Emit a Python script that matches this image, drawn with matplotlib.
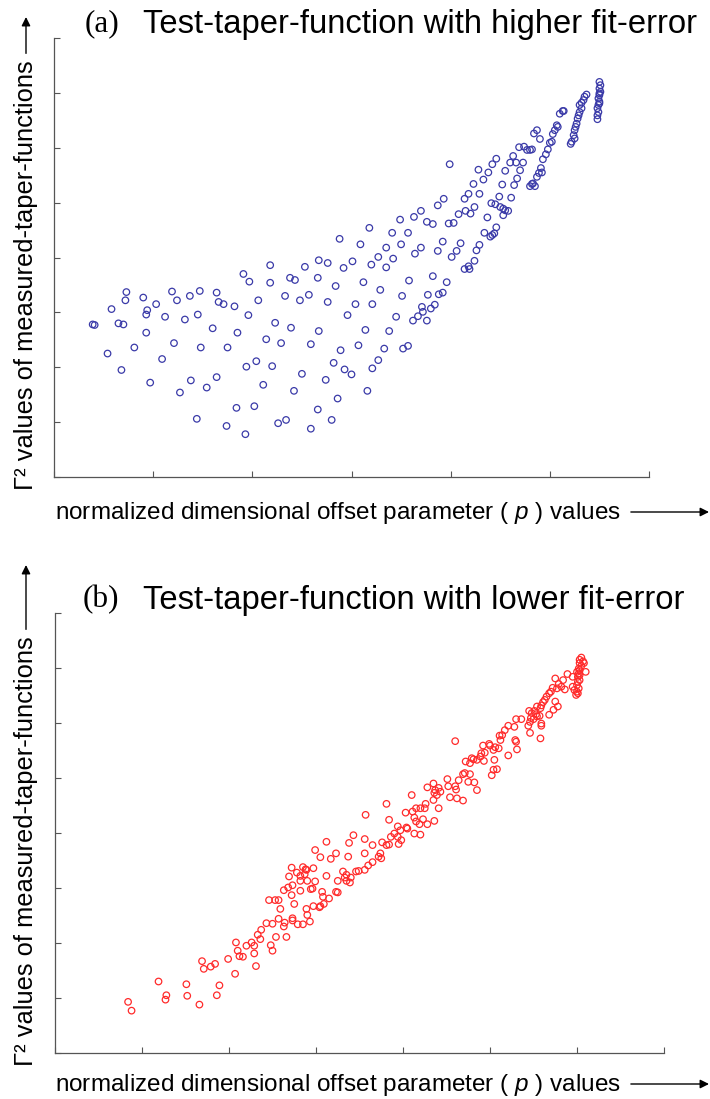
import matplotlib.pyplot as plt

plt.rcParams['font.family'] = ['Liberation Sans', 'DejaVu Sans']
plt.rcParams['mathtext.fontset'] = 'custom'
plt.rcParams['mathtext.rm'] = 'Liberation Sans'
plt.rcParams['mathtext.it'] = 'Liberation Sans:italic'

# (a) test-taper-function with higher fit-error
xa = [2.18, 2.53, 2.67, 2.76, 2.92, 3.01, 3.20, 3.35, 1.91, 1.97,
      2.38, 2.43, 2.18, 2.66, 2.84, 3.12, 0.73, 0.72, 0.90, 1.19,
      1.24, 1.37, 1.47, 1.64, 1.66, 1.71, 1.82, 2.06, 2.33, 2.48,
      2.57, 2.76, 3.04, 3.21, 3.29, 0.58, 1.03, 0.94, 0.93, 1.12,
      1.32, 1.45, 1.96, 2.96, 0.39, 0.41, 0.65, 0.70, 0.93, 1.60,
      1.85, 2.23, 2.39, 2.67, 3.14, 3.38, 0.54, 0.81, 1.21, 1.09,
      1.48, 1.75, 2.14, 2.29, 2.59, 2.89, 3.07, 3.33, 0.68, 1.94,
      2.04, 2.20, 2.82, 2.93, 3.00, 3.21, 3.27, 0.97, 1.38, 1.27,
      1.54, 1.64, 2.11, 2.50, 2.74, 2.42, 3.16, 2.86, 1.84, 2.02,
      2.66, 1.44, 1.74, 1.93, 2.26, 2.34, 2.59, 2.80,
      3.18, 2.88, 3.09, 3.35, 3.27,
      3.58, 3.82, 3.96, 3.51, 3.77, 3.88, 3.92, 3.71, 3.72, 3.67,
      3.62, 3.76, 3.80, 3.84, 3.45, 3.52, 3.57]
ya = [3.86, 3.83, 3.95, 3.90, 3.81, 3.93, 3.87, 3.82, 3.70, 3.56,
      3.63, 3.59, 3.54, 3.63, 3.48, 3.55, 3.37, 3.22, 3.27, 3.38,
      3.22, 3.30, 3.39, 3.36, 3.19, 3.15, 3.11, 3.22, 3.30, 3.22,
      3.32, 3.19, 3.15, 3.15, 3.41, 3.06, 3.15, 3.04, 2.96, 2.92,
      2.87, 2.96, 2.95, 2.95, 2.78, 2.77, 2.80, 2.78, 2.63, 2.71,
      2.63, 2.81, 2.72, 2.66, 2.68, 2.66, 2.25, 2.36, 2.44, 2.15,
      2.36, 2.36, 2.51, 2.44, 2.42, 2.31, 2.40, 2.34, 1.95, 2.01,
      2.11, 2.02, 2.08, 1.96, 1.87, 1.98, 2.13, 1.72, 1.76, 1.54,
      1.63, 1.82, 1.68, 1.88, 1.77, 1.57, 1.57, 1.43, 1.26, 1.29,
      1.23, 1.06, 0.93, 0.78, 0.98, 1.04, 0.88, 1.04,
      4.54, 4.34, 4.24, 4.18, 4.01,
      3.58, 3.66, 3.55, 3.30, 3.32, 3.33, 3.36, 3.10, 3.01, 2.93,
      2.85, 2.85, 3.07, 3.14, 2.92, 2.34, 2.39]

# (a) upper branch
xa_up = [5.50, 5.51, 5.50, 5.51, 5.50, 5.49, 5.50, 5.49, 5.48, 5.49,
         5.48, 5.48, 5.50, 5.50,
         5.37, 5.35, 5.34, 5.32, 5.30, 5.32, 5.30, 5.29, 5.28, 5.27,
         5.26, 5.25, 5.24, 5.25, 5.22, 5.21, 5.13, 5.10, 5.14,
         5.07, 5.08, 5.05, 5.03, 4.87, 4.84, 4.90, 5.02, 5.00, 4.98,
         4.96, 4.93, 4.91, 4.92, 4.89, 4.87, 4.85, 4.82, 4.80, 4.83,
         4.69, 4.74, 4.77, 4.80, 4.82, 4.63, 4.60, 4.66, 4.73, 4.70,
         4.67, 4.64, 4.55, 4.52, 4.46, 4.42, 4.38, 4.33, 4.28, 4.23,
         4.29, 4.18, 4.14, 4.24, 4.15, 4.20, 4.08, 3.99, 3.93, 3.87,
         3.70, 3.63, 3.49, 3.41, 3.57, 3.50, 3.42, 3.64, 3.70, 3.76,
         3.82, 3.98, 4.03, 3.92, 3.87, 4.01, 4.06, 4.10, 4.14, 4.18,
         4.19, 4.24, 4.26, 4.29, 4.34, 4.37, 4.40, 4.42, 4.44, 4.46,
         4.41, 4.45, 4.49, 4.50, 4.53, 4.55, 4.58, 4.53, 4.61]
ya_up = [7.20, 7.14, 7.08, 7.02, 6.96, 6.90, 6.84, 6.78, 6.72, 6.65,
         6.59, 6.52, 6.81, 6.99,
         6.97, 6.93, 6.87, 6.82, 6.78, 6.72, 6.65, 6.59, 6.53, 6.44,
         6.38, 6.32, 6.23, 6.17, 6.11, 6.07, 6.67, 6.62, 6.67,
         6.41, 6.38, 6.32, 6.25, 6.32, 6.26, 6.16, 6.11, 6.09, 5.97,
         5.88, 5.79, 5.63, 5.55, 5.54, 5.47, 5.30, 5.34, 5.30, 5.35,
         6.01, 6.02, 5.96, 5.96, 5.97, 5.85, 5.73, 5.73, 5.73, 5.59,
         5.44, 5.32, 5.58, 5.33, 5.80, 5.70, 5.55, 5.42, 5.60, 5.34,
         5.16, 5.16, 5.07, 4.92, 4.85, 4.80, 4.79, 5.70, 5.07, 4.95,
         4.85, 4.74, 4.69, 4.45, 4.45, 4.24, 3.98, 4.07, 4.18, 4.65,
         4.61, 4.62, 4.63, 4.29, 4.12, 4.01, 4.12, 4.26, 3.79, 3.84,
         3.79, 3.94, 4.13, 4.23, 4.45, 4.73, 4.38, 4.41, 4.44, 4.55,
         4.99, 4.97, 5.11, 4.92, 4.89, 4.86, 4.85, 4.77, 5.09]

# (b) test-taper-function with lower fit-error
xb = [6.05, 6.03, 6.07, 6.08, 6.03, 6.05, 6.02, 6.03, 6.10, 6.00,
      6.02, 6.01, 6.03, 6.03, 6.01, 6.00, 6.02, 6.00, 5.99, 5.97,
      5.95, 6.01, 5.95, 5.89, 5.84, 5.79, 5.75, 5.82, 5.86, 5.77,
      5.72, 5.70, 5.65, 5.68, 5.63, 5.61, 5.59, 5.58, 5.75, 5.78,
      5.73, 5.68, 5.59, 5.59, 5.58, 5.54, 5.51, 5.48, 5.45, 5.47,
      5.50, 5.54, 5.57, 5.53, 5.46, 5.44, 5.46, 5.36, 5.30, 5.28,
      5.21, 5.17, 5.14, 5.11, 5.12, 5.29, 5.30, 5.31, 5.21, 5.06,
      5.10, 5.04, 5.00, 4.99, 4.92, 4.90, 4.94, 4.89, 4.85, 4.81,
      4.77, 4.72, 4.79, 4.93, 5.05, 5.08, 5.04, 5.02, 4.60, 4.69,
      4.71, 4.64, 4.75, 4.82, 4.51, 4.52, 4.60, 4.61, 4.77, 4.85,
      4.35, 4.37, 4.41, 4.28, 4.43, 4.36, 4.39, 4.35, 4.54, 4.62,
      4.69, 4.26, 4.10, 3.81, 4.15, 4.20, 4.25, 4.41,
      3.84, 4.03, 4.11, 4.13, 4.15, 4.19, 4.23, 4.28, 4.36, 4.04,
      4.05, 3.94, 3.97, 3.90, 3.94, 3.86, 3.98, 3.95, 3.84, 3.81,
      3.76, 4.13, 4.20, 3.74, 3.75]
yb = [7.19, 7.15, 7.12, 7.09, 7.09, 7.04, 6.99, 6.96, 6.93, 6.93,
      6.90, 6.84, 6.87, 6.78, 6.75, 6.69, 6.63, 6.57, 6.51, 6.60,
      6.66, 6.54, 6.84, 6.89, 6.78, 6.71, 6.81, 6.66, 6.61, 6.63,
      6.64, 6.57, 6.48, 6.54, 6.42, 6.38, 6.32, 6.27, 6.39, 6.30,
      6.24, 6.15, 5.99, 5.95, 5.72, 6.30, 6.22, 6.18, 6.22, 6.09,
      6.07, 6.12, 6.13, 6.16, 6.02, 5.95, 5.82, 6.07, 6.07, 5.93,
      5.95, 5.87, 5.78, 5.77, 5.69, 5.69, 5.66, 5.52, 5.41, 5.56,
      5.54, 5.51, 5.59, 5.62, 5.59, 5.45, 5.46, 5.39, 5.33, 5.34,
      5.27, 5.30, 5.36, 5.31, 5.33, 5.16, 5.15, 5.05, 5.67, 5.07,
      5.09, 4.96, 4.93, 4.92, 4.98, 4.85, 4.85, 4.79, 5.07, 4.78,
      4.90, 4.78, 4.82, 4.83, 4.75, 4.73, 4.69, 4.60, 4.65, 4.63,
      4.59, 4.53, 4.69, 4.53, 4.45, 4.45, 4.45, 4.45,
      4.24, 4.37, 4.39, 4.28, 4.21, 4.16, 4.25, 4.16, 4.22, 4.10,
      4.08, 4.12, 4.05, 3.99, 3.93, 3.93, 3.87, 3.80, 3.79, 3.78,
      3.83, 3.99, 3.97, 3.63, 3.54]

# (b) lower part
xb_low = [3.57, 3.43, 3.38, 3.56, 3.65, 3.56, 3.72, 3.65, 3.60, 3.56,
          3.49, 3.46, 3.37, 3.23, 3.17, 3.12, 2.99, 3.05, 3.31, 3.25,
          3.35, 3.40, 3.39, 3.35, 3.33, 3.23, 3.25, 3.12, 3.15, 3.08,
          3.07, 3.05, 3.04, 3.09, 2.99, 2.97, 2.94, 2.90, 2.89, 2.96,
          2.85, 2.82, 2.88, 2.87, 2.82, 2.72, 2.69, 2.78, 2.73, 2.68,
          2.63, 2.72, 2.82, 2.57, 2.53, 2.46, 2.59, 2.75, 2.89, 2.90,
          2.93, 2.85, 2.79, 2.73, 2.73, 2.97, 2.64, 2.63, 2.66, 2.57,
          2.50, 2.43, 2.54, 2.48, 2.50, 2.37, 2.33, 2.36, 2.26, 2.29,
          2.20, 2.29, 2.31, 2.08, 2.10, 2.12, 2.16, 1.99, 2.07, 1.84,
          1.79, 1.71, 1.69, 1.89, 1.86, 1.66, 1.51, 1.52, 1.28, 1.27,
          1.19, 0.84, 0.88]
yb_low = [4.33, 3.96, 3.82, 3.89, 3.78, 3.63, 3.57, 3.47, 3.41, 3.33,
          3.31, 3.30, 3.57, 3.63, 3.53, 3.84, 3.69, 3.56, 3.30, 3.13,
          3.24, 3.19, 3.10, 3.13, 3.19, 2.93, 2.92, 3.22, 2.81, 2.84,
          2.93, 2.67, 2.65, 2.71, 3.12, 3.36, 2.98, 3.13, 3.33, 2.99,
          3.38, 3.22, 3.34, 3.25, 3.13, 3.37, 3.21, 3.28, 3.05, 3.01,
          2.96, 2.87, 2.95, 2.78, 2.78, 2.78, 2.62, 2.71, 2.62, 2.51,
          2.39, 2.34, 2.34, 2.45, 2.41, 2.67, 2.37, 2.30, 2.11, 2.44,
          2.35, 2.36, 2.11, 1.96, 1.86, 2.24, 2.15, 2.07, 2.01, 1.95,
          1.95, 1.81, 1.58, 2.01, 1.86, 1.76, 1.75, 1.71, 1.44, 1.62,
          1.57, 1.53, 1.67, 1.23, 1.05, 0.88, 1.25, 1.04, 1.05, 0.97,
          1.30, 0.93, 0.77]

W, H = 710, 1099
fig = plt.figure(figsize=(W / 100, H / 100), dpi=100)


def add_panel(left, top, right, bottom):
    return fig.add_axes([left / W, 1 - bottom / H, (right - left) / W, (bottom - top) / H])


ax1 = add_panel(54, 38, 649, 477)
ax2 = add_panel(55, 613, 664, 1053)

panels = [(ax1, [(xa, ya), (xa_up, ya_up)], '#3a3aa8', 6),
          (ax2, [(xb, yb), (xb_low, yb_low)], '#ff2b2b', 7)]
for ax, series, col, nx in panels:
    for x, y in series:
        ax.scatter(x, y, s=22, facecolors='none', edgecolors=col, linewidths=0.9, clip_on=False)
    ax.set_xlim(0, nx)
    ax.set_ylim(0, 8)
    ax.set_xticks(range(nx + 1))
    ax.set_yticks(range(9))
    ax.tick_params(direction='in', length=4, width=0.8, color='#555555',
                   labelbottom=False, labelleft=False)
    for s in ['top', 'right']:
        ax.spines[s].set_visible(False)
    for s in ['left', 'bottom']:
        ax.spines[s].set_color('#555555')
        ax.spines[s].set_linewidth(0.9)

# titles
fig.text(85 / W, 1 - 24 / H, '(a)', family='Liberation Serif', fontsize=22.5, va='center')
fig.text(143 / W, 1 - 24 / H, 'Test-taper-function with higher fit-error', fontsize=23.6, va='center')
fig.text(83 / W, 1 - 600 / H, '(b)', family='Liberation Serif', fontsize=22.5, va='center')
fig.text(143 / W, 1 - 600 / H, 'Test-taper-function with lower fit-error', fontsize=23.6, va='center')

# axis labels with arrows
xlab = 'normalized dimensional offset parameter ( $p$ ) values'
ylab = 'Γ² values of measured-taper-functions'
xl = [fig.text(55 / W, 1 - yy / H, xlab, fontsize=17.5, va='center') for yy in (513, 1085)]
yl = [fig.text(26 / W, 1 - yy / H, ylab, fontsize=18.4, rotation=90, ha='center', va='bottom')
      for yy in (490, 1066)]

fig.canvas.draw()
r = fig.canvas.get_renderer()
arrow = dict(arrowstyle='-|>', color='black', lw=1, mutation_scale=13, shrinkA=0, shrinkB=0)
for t in xl:
    bb = t.get_window_extent(r)
    yc = (bb.y0 + bb.y1) / 2 + 1
    ax1.annotate('', xy=(709, yc), xytext=(bb.x1 + 10, yc), annotation_clip=False,
                 xycoords='figure pixels', textcoords='figure pixels', arrowprops=arrow)
for t, tip in zip(yl, (17, 565)):
    bb = t.get_window_extent(r)
    xc = (bb.x0 + bb.x1) / 2
    ax1.annotate('', xy=(xc, H - tip), xytext=(xc, bb.y1 + 7), annotation_clip=False,
                 xycoords='figure pixels', textcoords='figure pixels', arrowprops=arrow)

fig.savefig('out.png', dpi=100)
